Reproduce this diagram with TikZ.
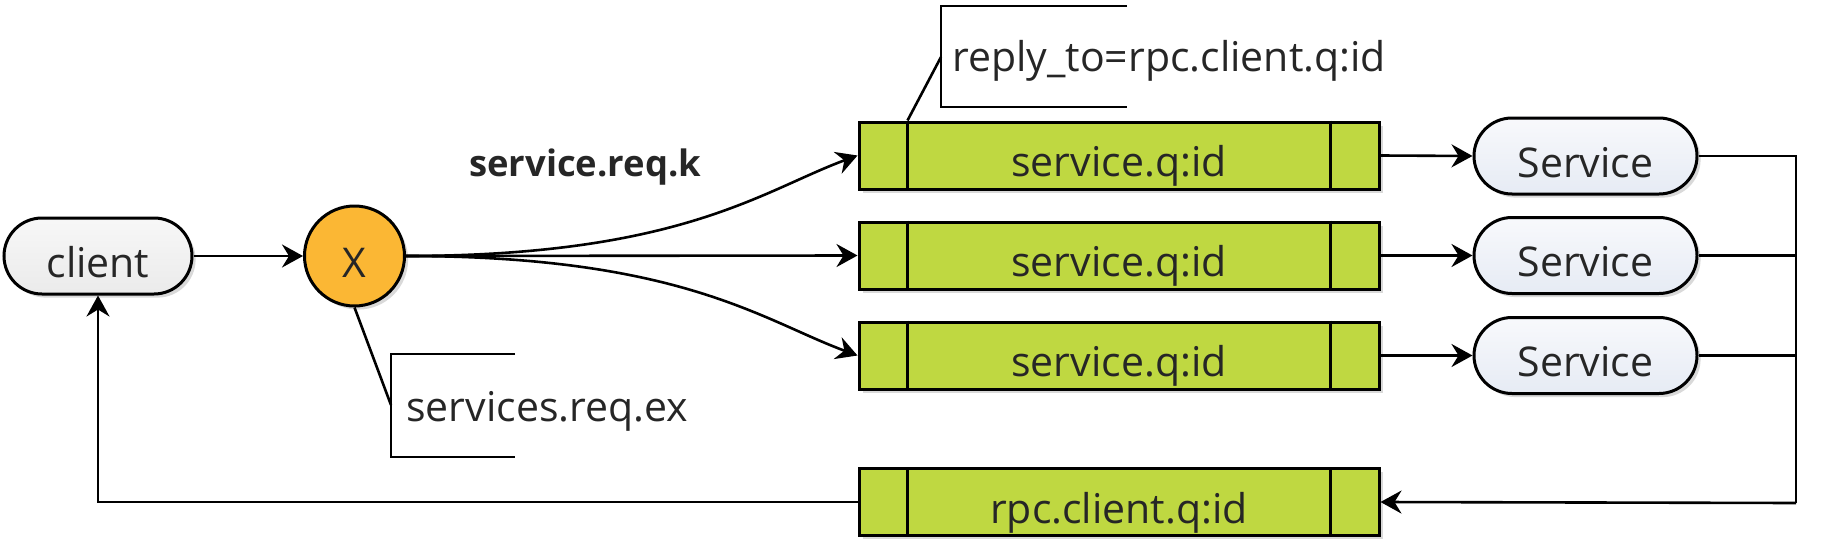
\documentclass[tikz,border=0pt]{standalone}
\usepackage{fontspec}
\setmainfont{Open Sans}
\usetikzlibrary{arrows.meta,shapes.misc,shadows,calc}
\definecolor{qgreen}{HTML}{BFD841}
\definecolor{xorange}{HTML}{FBB734}
\definecolor{txt}{HTML}{262626}
\begin{document}
\begin{tikzpicture}[x=0.5pt,y=-0.5pt,
  line width=1.3pt,
  arr/.style={-{Stealth[length=10.5pt,width=11.5pt,inset=3.5pt]}},
  shad/.style={drop shadow={shadow xshift=1.8pt,shadow yshift=-1.8pt,opacity=0.15,fill=black}},
  fnt/.style={font=\fontsize{20.5}{24}\selectfont, text=txt},
  lbl/.style={fnt, inner sep=0pt},
  boxtext/.style={fnt, inner sep=0pt, text height=21.2pt, text depth=0pt},
  queue/.style={draw, line width=1.5pt, fill=qgreen, minimum width=260pt, minimum height=33.5pt, boxtext, shad},
  pill/.style={draw, line width=1.5pt, rounded rectangle, minimum height=38pt, boxtext, shad},
  clientpill/.style={pill, minimum width=94pt, top color=white!97!black, bottom color=white!92!black},
  servpill/.style={pill, minimum width=111.5pt, top color={rgb,255:red,248;green,249;blue,252}, bottom color={rgb,255:red,230;green,235;blue,244}},
  exch/.style={draw, line width=1.5pt, circle, fill=xorange, minimum size=50pt, boxtext, shad}
]
\path[use as bounding box] (0,0) rectangle (1826,546);

% nodes
\node[clientpill] (client) at (98,256) {client};
\node[exch] (X) at (354.5,256) {X};

\node[queue] (q1) at (1119,155.5) {service.q:id};
\node[queue] (q2) at (1119,255.5) {service.q:id};
\node[queue] (q3) at (1119,355.5) {service.q:id};
\node[queue] (q4) at (1119,502) {rpc.client.q:id};

\foreach \q in {q1,q2,q3,q4}{
  \draw[line width=1.5pt] ([xshift=25pt]\q.north west) -- ([xshift=25pt]\q.south west);
  \draw[line width=1.5pt] ([xshift=-25pt]\q.north east) -- ([xshift=-25pt]\q.south east);
}

\node[servpill] (s1) at (1585.5,156) {Service};
\node[servpill] (s2) at (1585.5,255.5) {Service};
\node[servpill] (s3) at (1585.5,355.5) {Service};

% labels
\node[lbl, font=\fontsize{18.2}{22}\selectfont\bfseries, anchor=base west] (rk) at (468,176.7) {service.req.k};
\node[lbl, anchor=base west] (exl) at (405,421.7) {services.req.ex};
\node[lbl, anchor=base west] (rtl) at (951,71.5) {reply\_to=rpc.client.q:id};

% callout brackets
\coordinate (exb) at (391,405);
\coordinate (rtb) at (941,57);
\draw (515,354) -- (391,354) -- (391,457) -- (515,457);
\draw (1127,6) -- (941,6) -- (941,107) -- (1127,107);
\draw (X.south) -- (exb);
\draw ([xshift=25pt]q1.north west) -- (rtb);

% connectors
\draw[arr] (client.east) -- (X.west);
\draw[arr] (X.east) .. controls +(275,0) and +(-95,35) .. (q1.west);
\draw[arr] (X.east) -- (q2.west);
\draw[arr] (X.east) .. controls +(275,0) and +(-95,-35) .. (q3.west);

\draw[arr] (q1.east) -- (s1.west);
\draw[arr] (q2.east) -- (s2.west);
\draw[arr] (q3.east) -- (s3.west);

\coordinate (corner) at (1796,503);
\draw (s1.east) -- (s1.east -| corner) -- (corner);
\draw (s2.east) -- (s2.east -| corner);
\draw (s3.east) -- (s3.east -| corner);
\draw[arr] (corner) -- (q4.east);
\draw[arr] (q4.west) -| (client.south);
\end{tikzpicture}
\end{document}
